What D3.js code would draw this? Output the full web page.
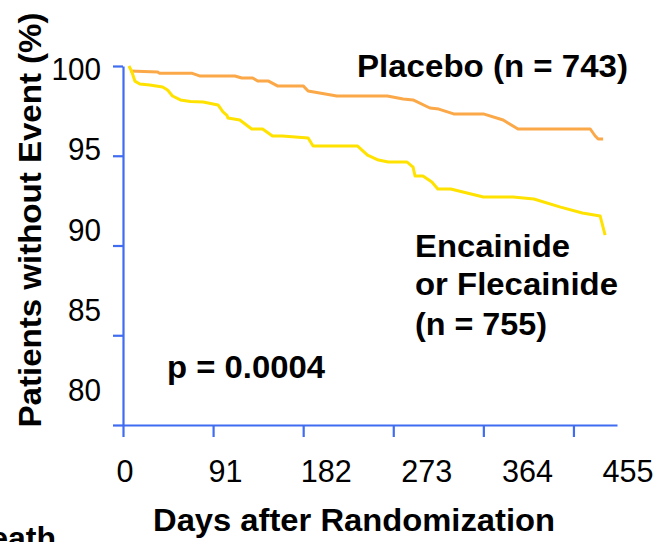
<!DOCTYPE html>
<html><head><meta charset="utf-8">
<script src="https://cdn.jsdelivr.net/npm/d3@7"></script>
<style>
html,body{margin:0;padding:0;background:#fff;}
svg{display:block;}
text{font-family:"Liberation Sans",Arial,Helvetica,sans-serif;fill:#000;}
</style></head>
<body>
<svg id="chart" width="660" height="542"></svg>
<script>
// ---- data ----
const xTickValues = [0, 91, 182, 273, 364, 455];
const xTickLabels = ["0", "91", "182", "273", "364", "455"];
const yTickValues = [100, 95, 90, 85, 80];
const yTickLabels = ["100", "95", "90", "85", "80"];

const placeboDays = [7, 35, 37, 70, 78, 113, 120, 131, 136, 147, 156, 182, 187, 216, 267, 283, 293, 310, 319, 334, 364, 384, 399, 472, 477, 480, 485];
const placeboPct  = [99.72, 99.67, 99.59, 99.59, 99.44, 99.44, 99.33, 99.33, 99.16, 99.16, 98.89, 98.89, 98.61, 98.33, 98.33, 98.16, 98.11, 97.66, 97.60, 97.33, 97.33, 96.99, 96.49, 96.49, 96.10, 95.93, 95.93];

const drugDays = [6, 9, 12, 17, 27, 40, 45, 50, 58, 68, 81, 96, 101, 105, 106, 118, 130, 141, 151, 161, 187, 192, 237, 247, 258, 268, 287, 293, 295, 303, 312, 318, 331, 364, 394, 415, 442, 464, 482, 487];
const drugPct  = [100.0, 99.67, 99.16, 99.0, 98.94, 98.83, 98.66, 98.33, 98.11, 98.02, 97.99, 97.83, 97.44, 97.25, 97.10, 96.99, 96.49, 96.49, 96.10, 96.10, 95.99, 95.54, 95.54, 95.04, 94.76, 94.65, 94.65, 94.37, 93.87, 93.87, 93.54, 93.15, 93.15, 92.70, 92.70, 92.59, 92.14, 91.81, 91.64, 90.58];

const placeboLabel = "Placebo (n = 743)";
const drugLabel = ["Encainide", "or Flecainide", "(n = 755)"];
const pLabel = "p = 0.0004";
const xTitle = "Days after Randomization";
const yTitle = "Patients without Event (%)";

// ---- chart ----
const svg = d3.select("#chart");
const axisColor = "#3F6CF0";

const x = d3.scaleLinear().domain([0, 499]).range([123, 617]);
const y = d3.scaleLinear().domain([80, 100]).range([425, 66]);
// tick labels in the original are drawn on a slightly different spacing than the ticks
const xLab = d3.scaleLinear().domain([0, 455]).range([125, 628]);
const yLab = d3.scaleLinear().domain([80, 100]).range([401, 80]);

// y axis
svg.append("g").attr("transform", "translate(123,0)")
  .call(d3.axisLeft(y).tickValues(yTickValues).tickSize(10).tickSizeOuter(0).tickFormat(""));
// x axis
svg.append("g").attr("transform", "translate(0,425)")
  .call(d3.axisBottom(x).tickValues(xTickValues).tickSize(12).tickSizeOuter(0).tickFormat(""));
svg.selectAll(".domain, .tick line").attr("stroke", axisColor).attr("stroke-width", 2.2);

// tick labels (slightly condensed like the original)
svg.append("g").selectAll("text").data(xTickValues).join("text")
  .attr("x", d => xLab(d)).attr("y", 482)
  .attr("text-anchor", "middle").attr("font-size", 32)
  .attr("textLength", (d, i) => xTickLabels[i].length * 17).attr("lengthAdjust", "spacingAndGlyphs")
  .text((d, i) => xTickLabels[i]);
svg.append("g").selectAll("text").data(yTickValues).join("text")
  .attr("x", 101).attr("y", d => yLab(d))
  .attr("text-anchor", "end").attr("font-size", 32)
  .attr("textLength", (d, i) => yTickLabels[i].length * 16.5).attr("lengthAdjust", "spacingAndGlyphs")
  .text((d, i) => yTickLabels[i]);

// lines
const line = d3.line().x(d => x(d[0])).y(d => y(d[1]));
const placebo = placeboDays.map((d, i) => [d, placeboPct[i]]);
const drug = drugDays.map((d, i) => [d, drugPct[i]]);
svg.append("path").datum(placebo).attr("d", line)
  .attr("fill", "none").attr("stroke", "#FBA848").attr("stroke-width", 3).attr("stroke-linejoin", "round");
svg.append("path").datum(drug).attr("d", line)
  .attr("fill", "none").attr("stroke", "#FFE200").attr("stroke-width", 3).attr("stroke-linejoin", "round");

// annotations
function boldText(tx, ty, str, len, anchor) {
  return svg.append("text").attr("x", tx).attr("y", ty)
    .attr("font-size", 32).attr("font-weight", "bold")
    .attr("text-anchor", anchor || "start")
    .attr("textLength", len).attr("lengthAdjust", "spacingAndGlyphs")
    .text(str);
}
boldText(357, 77, placeboLabel, 271);
boldText(415, 257, drugLabel[0], 155);
boldText(415, 295, drugLabel[1], 203);
boldText(415, 335, drugLabel[2], 132);
boldText(167, 378, pLabel, 158);
boldText(153, 531, xTitle, 402);
svg.append("text").attr("transform", "translate(41,220) rotate(-90)")
  .attr("text-anchor", "middle").attr("font-size", 32).attr("font-weight", "bold")
  .attr("textLength", 415).attr("lengthAdjust", "spacingAndGlyphs")
  .text(yTitle);
svg.append("text").attr("x", 56).attr("y", 549)
  .attr("text-anchor", "end").attr("font-size", 32).attr("font-weight", "bold")
  .text("Death");
</script>
</body></html>
